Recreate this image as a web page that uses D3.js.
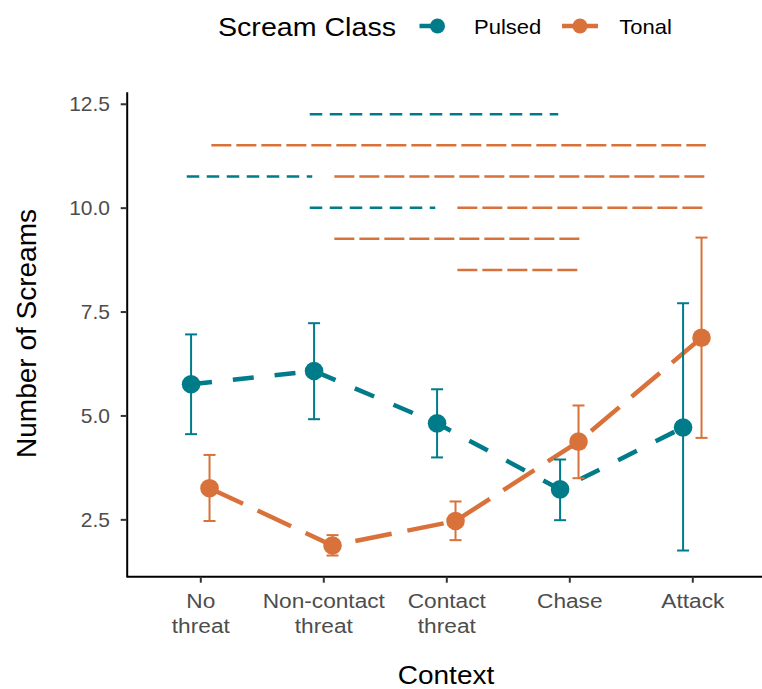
<!DOCTYPE html>
<html>
<head>
<meta charset="utf-8">
<script src="https://cdn.jsdelivr.net/npm/d3@7"></script>
<style>
  html, body { margin: 0; padding: 0; background: #fff; }
  svg { display: block; font-family: "Liberation Sans", Arial, sans-serif; }
</style>
</head>
<body>
<svg id="chart" width="762" height="689"></svg>
<script>
// Contexts on the x axis and their two-line tick labels
const categories = ["No threat", "Non-contact threat", "Contact threat", "Chase", "Attack"];
const tickLabels = [["No", "threat"], ["Non-contact", "threat"], ["Contact", "threat"], ["Chase"], ["Attack"]];
const yTicks = [2.5, 5.0, 7.5, 10.0, 12.5];

// Mean number of screams with interval bounds, per scream class
const seriesNames = ["Pulsed", "Tonal"];
const pulsedMean  = [5.75, 6.07, 4.81, 3.22, 4.71];
const pulsedLower = [4.55, 4.91, 3.99, 2.48, 1.75];
const pulsedUpper = [6.95, 7.22, 5.63, 3.94, 7.70];
const tonalMean   = [3.25, 1.87, 2.46, 4.37, 6.87];
const tonalLower  = [2.46, 1.63, 2.00, 3.49, 4.46];
const tonalUpper  = [4.05, 2.12, 2.93, 5.24, 9.28];

// Pairwise comparison brackets (drawn as dashed horizontal lines)
const sigSeries = ["Pulsed", "Tonal", "Pulsed", "Tonal", "Pulsed", "Tonal", "Tonal", "Tonal"];
const sigY      = [12.25, 11.5, 10.75, 10.75, 10.0, 10.0, 9.25, 8.5];
const sigFrom   = ["Non-contact threat", "No threat", "No threat", "Non-contact threat",
                   "Non-contact threat", "Contact threat", "Non-contact threat", "Contact threat"];
const sigTo     = ["Chase", "Attack", "Non-contact threat", "Attack",
                   "Contact threat", "Attack", "Chase", "Chase"];

const colors = { Pulsed: "#007B8A", Tonal: "#D8723A" };
const lineDash = { Pulsed: "21,21", Tonal: "37,16" };
const sigDash = { Pulsed: "10,10", Tonal: "17.5,7.5" };
const dodgeOffset = { Pulsed: -0.075, Tonal: 0.075 };
const sigOffset = { Pulsed: -0.1, Tonal: 0.1 };

const series = [
  { name: "Pulsed", mean: pulsedMean, lower: pulsedLower, upper: pulsedUpper },
  { name: "Tonal",  mean: tonalMean,  lower: tonalLower,  upper: tonalUpper }
];

const svg = d3.select("#chart");
const panel = { left: 126.7, right: 762, top: 91.7, bottom: 576.7 };

const x = d3.scalePoint().domain(categories).range([200.3, 692.3]);
const y = d3.scaleLinear().domain([1.12, 12.79]).range([panel.bottom, panel.top]);
const step = x.step();
const xd = (cat, name) => x(cat) + dodgeOffset[name] * step;

// Horizontally scaled text helper
function label(g, txt, px, py, opts) {
  const t = g.append("text")
    .attr("transform", `translate(${px},${py}) scale(${opts.sx || 1},1)`)
    .attr("font-size", opts.size)
    .attr("fill", opts.fill || "#000")
    .attr("text-anchor", opts.anchor || "start")
    .text(txt);
  return t;
}

// Comparison lines
const sigG = svg.append("g");
sigSeries.forEach((s, i) => {
  sigG.append("line")
    .attr("x1", x(sigFrom[i]) + sigOffset[s] * step)
    .attr("x2", x(sigTo[i]) + sigOffset[s] * step)
    .attr("y1", y(sigY[i])).attr("y2", y(sigY[i]))
    .attr("stroke", colors[s]).attr("stroke-width", 2.5)
    .attr("stroke-linecap", "square")
    .attr("stroke-dasharray", sigDash[s]);
});

// Mean lines
const lineGen = d3.line();
series.forEach(s => {
  const pts = categories.map((c, i) => [xd(c, s.name), y(s.mean[i])]);
  svg.append("path")
    .attr("d", lineGen(pts))
    .attr("fill", "none")
    .attr("stroke", colors[s.name])
    .attr("stroke-width", 4.5)
    .attr("stroke-dasharray", lineDash[s.name]);
});

// Error bars
series.forEach(s => {
  const g = svg.append("g").attr("stroke", colors[s.name]).attr("stroke-width", 2);
  categories.forEach((c, i) => {
    const cx = xd(c, s.name);
    g.append("line").attr("x1", cx).attr("x2", cx).attr("y1", y(s.lower[i])).attr("y2", y(s.upper[i]));
    g.append("line").attr("x1", cx - 6).attr("x2", cx + 6).attr("y1", y(s.lower[i])).attr("y2", y(s.lower[i]));
    g.append("line").attr("x1", cx - 6).attr("x2", cx + 6).attr("y1", y(s.upper[i])).attr("y2", y(s.upper[i]));
  });
});

// Points
series.forEach(s => {
  svg.append("g").selectAll("circle")
    .data(categories)
    .join("circle")
    .attr("cx", (c) => xd(c, s.name))
    .attr("cy", (c, i) => y(s.mean[i]))
    .attr("r", 9.3)
    .attr("fill", colors[s.name]);
});

// Axes
const yAxis = svg.append("g")
  .attr("transform", `translate(${panel.left},0)`)
  .call(d3.axisLeft(y).tickValues(yTicks).tickFormat(d3.format(".1f")).tickSize(6).tickSizeOuter(0));
yAxis.select(".domain").attr("stroke", "#000").attr("stroke-width", 2);
yAxis.selectAll(".tick line").attr("stroke", "#333").attr("stroke-width", 2);
yAxis.selectAll(".tick text").each(function () {
  const sx = 1.05;
  d3.select(this)
    .attr("font-size", 20)
    .attr("font-family", "Liberation Sans, Arial, sans-serif")
    .attr("fill", "#4D4D4D")
    .attr("x", -16.7 / sx)
    .attr("dy", "0.35em")
    .attr("transform", `scale(${sx},1)`);
});

const xAxis = svg.append("g")
  .attr("transform", `translate(0,${panel.bottom})`)
  .call(d3.axisBottom(x).tickSize(6).tickSizeOuter(0).tickFormat(""));
xAxis.select(".domain").attr("d", `M${panel.left},0H${panel.right}`).attr("stroke", "#000").attr("stroke-width", 2);
xAxis.selectAll(".tick line").attr("stroke", "#333").attr("stroke-width", 2);
xAxis.selectAll(".tick text").each(function (d, i) {
  const t = d3.select(this)
    .attr("font-size", 21)
    .attr("font-family", "Liberation Sans, Arial, sans-serif")
    .attr("fill", "#4D4D4D")
    .attr("y", 0).attr("dy", null)
    .attr("transform", "scale(1.08,1)")
    .text(null);
  tickLabels[i].forEach((ln, k) => {
    t.append("tspan").attr("x", 0).attr("y", 31 + k * 25.7).text(ln);
  });
});

// Axis titles
label(svg, "Context", 446, 684, { size: 25, sx: 1.12, anchor: "middle" });
svg.append("text")
  .attr("transform", "translate(36,333.5) rotate(-90)")
  .attr("font-size", 28)
  .attr("text-anchor", "middle")
  .text("Number of Screams");

// Legend
const legend = svg.append("g");
label(legend, "Scream Class", 218, 36, { size: 26, sx: 1.1 });
const keyPos = { Pulsed: 437.5, Tonal: 580 };
const keyLabelX = { Pulsed: 474, Tonal: 619.3 };
seriesNames.forEach(name => {
  const cx = keyPos[name];
  legend.append("line")
    .attr("x1", cx - 18).attr("x2", cx + 18)
    .attr("y1", 26).attr("y2", 26)
    .attr("stroke", colors[name]).attr("stroke-width", 4.5)
    .attr("stroke-dasharray", lineDash[name]);
  legend.append("circle").attr("cx", cx).attr("cy", 26).attr("r", 7.5).attr("fill", colors[name]);
  label(legend, name, keyLabelX[name], 34.3, { size: 20, sx: 1.1 });
});
</script>
</body>
</html>
